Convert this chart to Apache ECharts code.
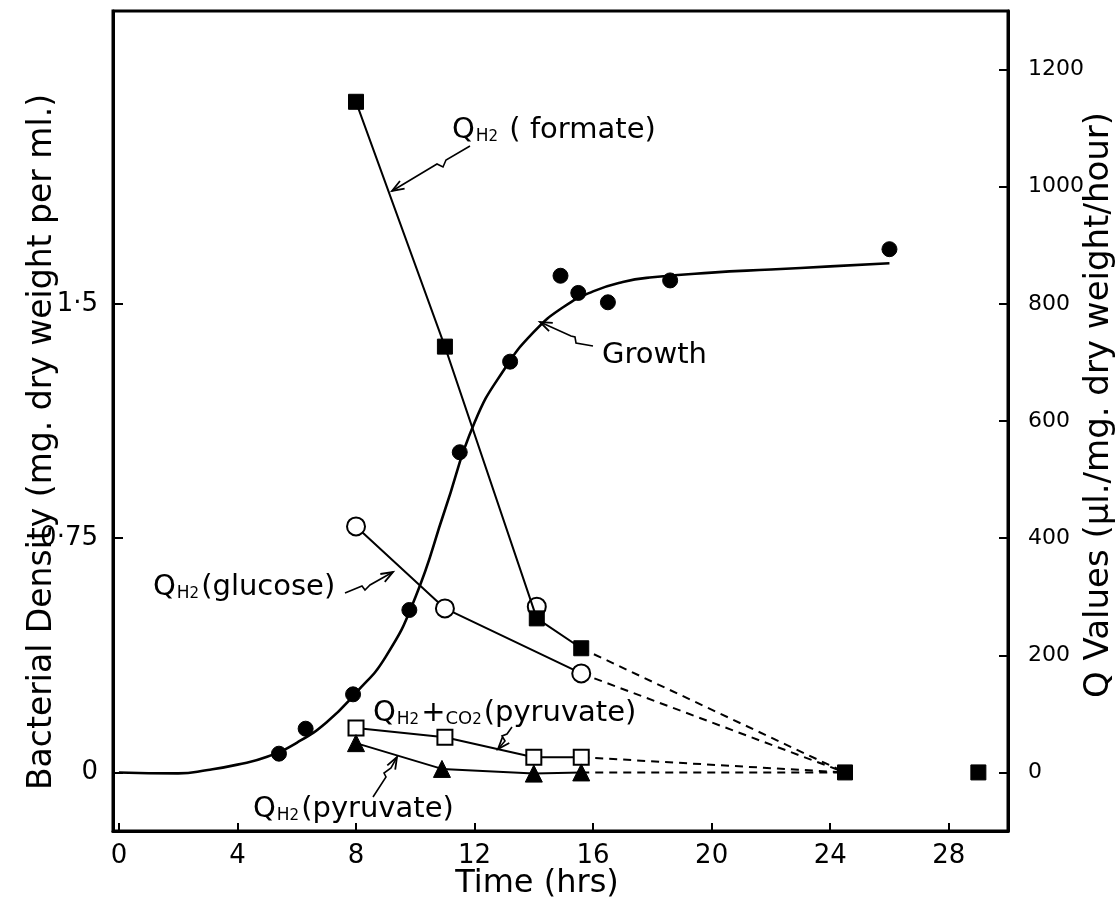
<!DOCTYPE html>
<html><head><meta charset="utf-8">
<script src="https://cdn.jsdelivr.net/npm/echarts@6/dist/echarts.min.js"></script>
<style>html,body{margin:0;padding:0;background:#fff}#c{width:1117px;height:913px}</style>
</head><body><div id="c"></div>
<script>
// ---- tick values / labels ----
const xTicks = [0, 4, 8, 12, 16, 20, 24, 28];
const leftTicks = [0, 0.75, 1.5];
const leftTickLabels = ['0', '0·75', '1·5'];
const rightTicks = [0, 200, 400, 600, 800, 1000, 1200];

// ---- Growth (bacterial density, left axis) ----
const growthTime    = [5.4, 6.3, 7.9, 9.8, 11.5, 13.2, 14.9, 15.5, 16.5, 18.6, 26.0];
const growthDensity = [0.06, 0.14, 0.25, 0.52, 1.025, 1.315, 1.59, 1.535, 1.505, 1.575, 1.675];
// hand-drawn growth curve
const growthCurveTime    = [0, 2, 3, 4, 5, 6, 7, 8, 9, 10, 11, 12, 13, 14, 15, 16, 17, 18, 20, 22, 24, 26];
const growthCurveDensity = [0, -0.003, 0.008, 0.025, 0.05, 0.095, 0.16, 0.255, 0.37, 0.56, 0.84, 1.12, 1.29, 1.41, 1.49, 1.54, 1.57, 1.585, 1.6, 1.61, 1.62, 1.63];

// ---- Q values (right axis) ----
const formateTime = [8, 11, 14.1, 15.6];
const formateQ    = [1145, 727, 263, 212];
const glucoseTime = [8, 11, 15.6];
const glucoseQ    = [420, 280, 169];
const glucoseExtraTime = [14.1];
const glucoseExtraQ    = [283];
const pyrCO2Time  = [8, 11, 14, 15.6];
const pyrCO2Q     = [76, 60, 26, 26];
const pyrH2Time   = [8, 10.9, 14, 15.6];
const pyrH2Q      = [50, 6, -2, 0];
const lateTime    = [24.5, 29];
const lateQ       = [0, 0];

const zip = (a, b) => a.map((v, i) => [v, b[i]]);
const lastOf = (t, q) => [t[t.length - 1], q[q.length - 1]];
const FONT = 'DejaVu Sans';
const BLACK = '#000';
const FILLED = { color: BLACK, borderColor: BLACK, borderWidth: 1, opacity: 1 };
const HOLLOW = { color: '#fff', borderColor: BLACK, borderWidth: 2, opacity: 1 };

function solid(name, t, q, symbol, size, filled, z) {
  return {
    name, type: 'line', yAxisIndex: 1, data: zip(t, q), symbol, symbolSize: size,
    showSymbol: true, z,
    lineStyle: { color: BLACK, width: 2 },
    itemStyle: filled ? FILLED : HOLLOW,
    emphasis: { disabled: true }
  };
}
function dashed(name, t, q) {
  return {
    name: name + ' extrap', type: 'line', yAxisIndex: 1, z: 1,
    data: [lastOf(t, q), [lateTime[0], lateQ[0]]], showSymbol: false, symbol: 'none',
    lineStyle: { color: BLACK, width: 2, type: [8, 6] }
  };
}

const chart = echarts.init(document.getElementById('c'), null, { renderer: 'canvas' });

const sub = { q: { fontSize: 29, fontFamily: FONT, color: BLACK, lineHeight: 36, verticalAlign: 'bottom' },
  h: { fontSize: 17, fontFamily: FONT, color: BLACK, lineHeight: 22, verticalAlign: 'bottom', padding: [0, 0, 0, 1] },
  s: { fontSize: 15, fontFamily: FONT, color: BLACK, lineHeight: 12, verticalAlign: 'bottom', padding: [0, 2, 0, 0] },
  t: { fontSize: 29, fontFamily: FONT, color: BLACK, lineHeight: 36, verticalAlign: 'bottom' },
  c: { fontSize: 18, fontFamily: FONT, color: BLACK, lineHeight: 32, verticalAlign: 'bottom' } };

function label(text, x, y) {
  return { type: 'text', x, y, z: 100, style: { text, rich: sub, fill: BLACK, verticalAlign: 'middle', align: 'left' } };
}
function arrow(pts) {
  const n = pts.length;
  const [x1, y1] = pts[n - 2], [x2, y2] = pts[n - 1];
  const a = Math.atan2(y2 - y1, x2 - x1), L = 12, W = 4.5;
  const c = Math.cos(a), s = Math.sin(a);
  const head = [[x2 - L * c + W * s, y2 - L * s - W * c], [x2, y2], [x2 - L * c - W * s, y2 - L * s + W * c]];
  return [
    { type: 'polyline', z: 100, shape: { points: pts }, style: { stroke: BLACK, lineWidth: 1.6, fill: null } },
    { type: 'polyline', z: 100, shape: { points: head }, style: { stroke: BLACK, lineWidth: 1.8, fill: null } }
  ];
}

const option = {
  backgroundColor: '#fff',
  animation: false,
  grid: { left: 113, right: 109, top: 11, bottom: 82, show: true, borderColor: BLACK, borderWidth: 3, containLabel: false },
  xAxis: {
    type: 'value', min: -0.2, max: 30,
    axisLine: { show: true, onZero: false, lineStyle: { color: BLACK, width: 3 } },
    axisTick: { show: true, inside: true, length: 8, customValues: xTicks, lineStyle: { color: BLACK, width: 2 } },
    axisLabel: { customValues: xTicks, color: BLACK, fontSize: 26, fontFamily: FONT, margin: 12 },
    splitLine: { show: false }
  },
  yAxis: [
    {
      type: 'value', position: 'left', min: -0.1875, max: 2.4375,
      axisLine: { show: true, onZero: false, lineStyle: { color: BLACK, width: 3 } },
      axisTick: { show: true, inside: true, length: 10, customValues: leftTicks, lineStyle: { color: BLACK, width: 2 } },
      axisLabel: { customValues: leftTicks, color: BLACK, fontSize: 26, fontFamily: FONT, margin: 15,
        formatter: v => leftTickLabels[leftTicks.indexOf(v)] },
      splitLine: { show: false }
    },
    {
      type: 'value', position: 'right', min: -100, max: 1300,
      axisLine: { show: true, onZero: false, lineStyle: { color: BLACK, width: 3 } },
      axisTick: { show: true, inside: true, length: 9, customValues: rightTicks, lineStyle: { color: BLACK, width: 2 } },
      axisLabel: { customValues: rightTicks, color: BLACK, fontSize: 22, fontFamily: FONT, margin: 20,
        formatter: v => String(v) },
      splitLine: { show: false }
    }
  ],
  series: [
    { name: 'Growth curve', type: 'line', yAxisIndex: 0, data: zip(growthCurveTime, growthCurveDensity),
      smooth: 0.5, showSymbol: false, symbol: 'none', z: 2,
      lineStyle: { color: BLACK, width: 2.6 } },
    { name: 'Growth', type: 'scatter', yAxisIndex: 0, data: zip(growthTime, growthDensity),
      symbol: 'circle', symbolSize: 15, itemStyle: FILLED, z: 3 },
    dashed('Formate', formateTime, formateQ),
    dashed('Glucose', glucoseTime, glucoseQ),
    dashed('PyrCO2', pyrCO2Time, pyrCO2Q),
    dashed('PyrH2', pyrH2Time, pyrH2Q),
    solid('QH2 (glucose)', glucoseTime, glucoseQ, 'circle', 18, false, 4),
    { name: 'QH2 (glucose) extra', type: 'scatter', yAxisIndex: 1, data: zip(glucoseExtraTime, glucoseExtraQ),
      symbol: 'circle', symbolSize: 18, itemStyle: HOLLOW, z: 4 },
    solid('QH2 (formate)', formateTime, formateQ, 'rect', 15, true, 5),
    solid('QH2+CO2 (pyruvate)', pyrCO2Time, pyrCO2Q, 'rect', 15, false, 4),
    solid('QH2 (pyruvate)', pyrH2Time, pyrH2Q, 'triangle', 17, true, 5),
    { name: 'late formate', type: 'scatter', yAxisIndex: 1, data: zip(lateTime, lateQ),
      symbol: 'rect', symbolSize: 15, itemStyle: FILLED, z: 6 }
  ],
  graphic: [
    { type: 'text', x: 42, y: 442, rotation: Math.PI / 2, z: 100,
      style: { text: 'Bacterial Density (mg. dry weight per ml.)', fontSize: 33, fontFamily: FONT, fill: BLACK, align: 'center', verticalAlign: 'middle' } },
    { type: 'text', x: 1099, y: 405, rotation: Math.PI / 2, z: 100,
      style: { text: 'Q Values (µl./mg. dry weight/hour)', fontSize: 34, fontFamily: FONT, fill: BLACK, align: 'center', verticalAlign: 'middle' } },
    { type: 'text', x: 537, y: 884, z: 100,
      style: { text: 'Time (hrs)', fontSize: 32, fontFamily: FONT, fill: BLACK, align: 'center', verticalAlign: 'middle' } },
    label('{q|Q}{h|H}{s|2}{t| ( formate)}', 452, 127),
    label('{t|Growth}', 602, 352),
    label('{q|Q}{h|H}{s|2}{t|(glucose)}', 153, 584),
    label('{q|Q}{h|H}{s|2}{t|+}{c|CO}{s|2}{t|(pyruvate)}', 373, 710),
    label('{q|Q}{h|H}{s|2}{t|(pyruvate)}', 253, 806),
    ...arrow([[470, 146], [446, 160], [443, 167], [437, 164], [392, 191]]),
    ...arrow([[593, 346], [576, 343], [575, 337], [571, 336], [540, 322]]),
    ...arrow([[345, 593], [362, 586], [365, 590], [370, 585], [393, 572]]),
    ...arrow([[512, 727], [507, 734], [502, 736], [505, 741], [498, 749]]),
    ...arrow([[373, 797], [386, 777], [384, 773], [391, 768], [397, 757]])
  ]
};
chart.setOption(option);
</script>
</body></html>
